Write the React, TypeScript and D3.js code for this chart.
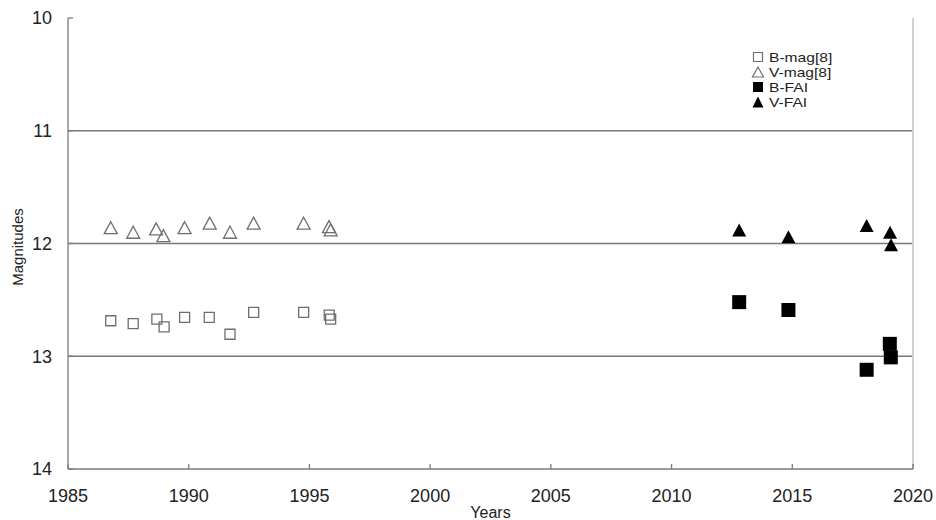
import React from "react";
import * as d3 from "d3";

// V-mag[8] (open triangles)
const vMagYears = [1986.77, 1987.7, 1988.65, 1988.95, 1989.83, 1990.87, 1991.71, 1992.69, 1994.76, 1995.81, 1995.88];
const vMagValues = [11.86, 11.9, 11.87, 11.93, 11.86, 11.82, 11.9, 11.82, 11.82, 11.85, 11.88];
// B-mag[8] (open squares)
const bMagYears = [1986.77, 1987.7, 1988.68, 1988.98, 1989.83, 1990.85, 1991.71, 1992.69, 1994.76, 1995.82, 1995.88];
const bMagValues = [12.685, 12.71, 12.67, 12.74, 12.655, 12.655, 12.805, 12.61, 12.61, 12.635, 12.67];
// FAI observations
const vFaiYears = [2012.8, 2014.84, 2018.08, 2019.05, 2019.09];
const vFaiValues = [11.88, 11.94, 11.84, 11.9, 12.01];
const bFaiYears = [2012.8, 2014.84, 2018.08, 2019.04, 2019.08];
const bFaiValues = [12.52, 12.59, 13.12, 12.89, 13.01];

const xTicks = [1985, 1990, 1995, 2000, 2005, 2010, 2015, 2020];
const yTicks = [10, 11, 12, 13, 14];
const legendLabels = ["B-mag[8]", "V-mag[8]", "B-FAI", "V-FAI"];

const W = 936;
const H = 520;
const margin = { top: 18, right: 23, bottom: 51, left: 68 };
const FONT = "'Liberation Sans', Arial, sans-serif";

const tri = (w: number, h: number) =>
    `M0,${-h / 2}L${w / 2},${h / 2}L${-w / 2},${h / 2}Z`;
const sq = (s: number) => `M${-s / 2},${-s / 2}h${s}v${s}h${-s}Z`;

export default function App() {
    const x = d3.scaleLinear().domain([1985, 2020]).range([margin.left, W - margin.right]);
    const y = d3.scaleLinear().domain([10, 14]).range([margin.top, H - margin.bottom]);
    const [x0, x1] = x.range();
    const [y0, y1] = y.range();

    const series = [
        { xs: bMagYears, ys: bMagValues, d: sq(10), fill: "none", stroke: "#6e6e6e" },
        { xs: vMagYears, ys: vMagValues, d: tri(13, 12), fill: "none", stroke: "#6e6e6e" },
        { xs: bFaiYears, ys: bFaiValues, d: sq(14), fill: "#000", stroke: "none" },
        { xs: vFaiYears, ys: vFaiValues, d: tri(14, 13), fill: "#000", stroke: "none" },
    ];
    const legendShapes = [sq(9), tri(11, 10), sq(10), tri(11, 11)];

    return (
        <svg width={W} height={H} style={{ position: "absolute", left: 0, top: 0, background: "#fff" }}
             fontFamily={FONT}>
            <rect width={W} height={H} fill="#fff" />
            {/* grid lines */}
            {yTicks.filter((t) => t > 10 && t < 14).map((t) => (
                <line key={t} x1={x0} x2={x1} y1={y(t)} y2={y(t)} stroke="#7a7a7a" strokeWidth={1.3} />
            ))}
            {/* right border */}
            <line x1={x1} x2={x1} y1={y0} y2={y1} stroke="#cfcfcf" strokeWidth={2} />
            {/* axes */}
            <line x1={x0} x2={x0} y1={y0} y2={y1} stroke="#7a7a7a" strokeWidth={1.3} />
            <line x1={x0} x2={x1} y1={y1} y2={y1} stroke="#7a7a7a" strokeWidth={1.3} />
            {yTicks.map((t) => (
                <g key={t}>
                    <line x1={x0} x2={x0 + 5} y1={y(t)} y2={y(t)} stroke="#7a7a7a" strokeWidth={1.3} />
                    <text x={x0 - 16} y={y(t)} dy="0.36em" textAnchor="end" fontSize={18} fill="#222">{t}</text>
                </g>
            ))}
            {xTicks.map((t) => (
                <g key={t}>
                    <line x1={x(t)} x2={x(t)} y1={y1} y2={y1 - 5} stroke="#7a7a7a" strokeWidth={1.3} />
                    <text x={x(t)} y={y1 + 27} dy="0.36em" textAnchor="middle" fontSize={18} fill="#222">{t}</text>
                </g>
            ))}
            <text x={(x0 + x1) / 2} y={512} dy="0.36em" textAnchor="middle" fontSize={16} fill="#222">Years</text>
            <text transform={`translate(18,247) rotate(-90)`} dy="0.36em" textAnchor="middle" fontSize={15}
                  fill="#222">Magnitudes</text>

            {/* data */}
            {series.map((s, i) => (
                <g key={i}>
                    {s.xs.map((v, j) => (
                        <path key={j} d={s.d} transform={`translate(${x(v)},${y(s.ys[j])})`} fill={s.fill}
                              stroke={s.stroke} strokeWidth={1.3} />
                    ))}
                </g>
            ))}

            {/* legend */}
            {legendLabels.map((l, i) => (
                <g key={l} transform={`translate(758,${57 + i * 15})`}>
                    <path d={legendShapes[i]} fill={series[i].fill} stroke={series[i].stroke} strokeWidth={1.2} />
                    <text transform="translate(11,0) scale(1.2,1)" dy="0.36em" fontSize={13} fill="#222">{l}</text>
                </g>
            ))}
        </svg>
    );
}
